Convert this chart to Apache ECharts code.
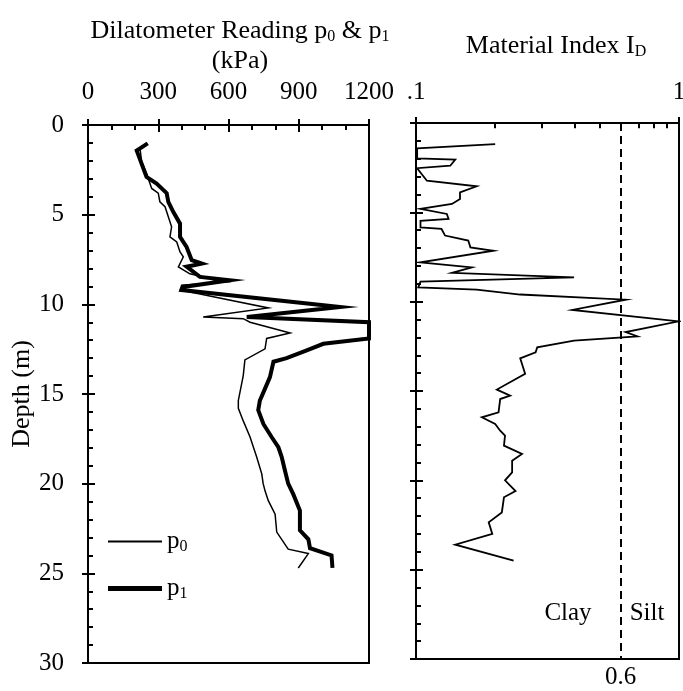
<!DOCTYPE html>
<html>
<head>
<meta charset="utf-8">
<script src="https://cdn.jsdelivr.net/npm/echarts@6/dist/echarts.min.js"></script>
<style>html,body{margin:0;padding:0;background:#fff}#c{width:683px;height:691px}</style>
</head>
<body>
<div id="c"></div>
<script>
// ---- data ----
const p0Depth = [1.3, 2.04, 2.7, 3.54, 3.8, 4.28, 4.56, 4.84, 5.68, 6.24, 6.52, 7.08, 7.35, 7.91, 8.3, 8.75, 8.94, 9.2, 10.2, 10.7, 10.8, 11.0, 11.6, 11.9, 12.48, 13.1, 13.97, 15.36, 15.8, 16.5, 17.4, 18.5, 19.45, 20.0, 20.4, 20.95, 21.7, 22.7, 23.65, 23.9, 24.7];
const p0Values = [222, 229, 250, 272, 300, 307, 329, 336, 357, 350, 379, 393, 407, 386, 435, 592, 400, 393, 770, 492, 663, 692, 863, 763, 756, 670, 663, 642, 642, 663, 692, 720, 742, 748, 756, 770, 799, 806, 855, 941, 898];

const p1Depth = [1.02, 1.43, 2.9, 3.26, 3.8, 4.28, 4.84, 5.5, 6.24, 6.8, 7.54, 7.73, 7.9, 8.47, 8.66, 9.03, 9.2, 10.15, 10.7, 11.0, 11.9, 12.2, 12.57, 13.0, 13.2, 14.06, 14.7, 15.36, 15.9, 16.67, 17.4, 17.97, 18.5, 19.27, 20.0, 20.6, 21.5, 22.6, 23.1, 23.6, 24.0, 24.7];
const p1Values = [255, 208, 250, 293, 336, 343, 364, 393, 393, 421, 443, 486, 421, 478, 606, 407, 400, 1076, 678, 1200, 1200, 1005, 934, 848, 792, 777, 756, 734, 727, 749, 784, 813, 827, 841, 855, 877, 905, 905, 941, 948, 1040, 1044];

const idDepth = [1.18, 1.42, 1.98, 2.05, 2.39, 2.53, 3.23, 3.54, 3.88, 4.25, 4.53, 4.81, 5.09, 5.37, 5.47, 5.84, 5.93, 6.3, 6.58, 6.96, 7.15, 7.8, 8.08, 8.39, 8.64, 8.88, 9.2, 9.33, 9.6, 9.89, 10.46, 11.1, 11.7, 11.94, 12.18, 12.56, 12.83, 13.17, 14.04, 14.92, 15.26, 15.45, 16.19, 16.47, 16.84, 17.22, 17.5, 18.06, 18.52, 18.9, 19.55, 20.0, 20.6, 20.95, 21.8, 22.35, 23.0, 23.6, 24.5];
const idValues = [0.2, 0.101, 0.101, 0.141, 0.135, 0.101, 0.11, 0.17, 0.147, 0.147, 0.137, 0.104, 0.131, 0.133, 0.104, 0.104, 0.125, 0.129, 0.158, 0.161, 0.197, 0.104, 0.163, 0.137, 0.399, 0.104, 0.102, 0.17, 0.249, 0.627, 0.393, 1.0, 0.627, 0.695, 0.399, 0.289, 0.285, 0.249, 0.26, 0.203, 0.228, 0.209, 0.206, 0.178, 0.2, 0.209, 0.218, 0.216, 0.253, 0.232, 0.232, 0.218, 0.239, 0.216, 0.212, 0.189, 0.195, 0.141, 0.235];

const pressureTicks = [0, 300, 600, 900, 1200];
const depthTicks = [0, 5, 10, 15, 20, 25, 30];
const idMinorTicks = [0.2, 0.3, 0.4, 0.5, 0.6, 0.7, 0.8, 0.9];
const clayLimit = 0.6;
const seriesNames = ['p0', 'p1'];

// ---- chart ----
const FONT = 'Liberation Serif';
const FS = 25;   // tick labels / annotations
const FT = 26;   // titles
const BLACK = '#000';
const subRich = { sub: { fontSize: 16, padding: [11, 0, 0, 0], fontFamily: FONT, color: BLACK } };
const zip = (xs, ys) => xs.map((x, i) => [x, ys[i]]);

const chart = echarts.init(document.getElementById('c'), null, { renderer: 'canvas' });

function mainX(grid, extra) {
  return Object.assign({
    gridIndex: grid, position: 'top',
    axisLine: { show: true, lineStyle: { color: BLACK, width: 2 } },
    axisTick: { show: true, inside: true, length: 7, lineStyle: { color: BLACK, width: 2 } },
    axisLabel: { color: BLACK, fontFamily: FONT, fontSize: FS, margin: 20 },
    splitLine: { show: false }
  }, extra);
}
function outerX(grid, extra) {
  return Object.assign({
    gridIndex: grid, position: 'top',
    axisLine: { show: false },
    axisTick: { show: true, inside: false, length: 6, lineStyle: { color: BLACK, width: 2 } },
    axisLabel: { show: false }, splitLine: { show: false }
  }, extra);
}
function mainY(grid, extra) {
  return Object.assign({
    gridIndex: grid, type: 'value', position: 'left', inverse: true,
    min: depthTicks[0], max: depthTicks[depthTicks.length - 1], interval: 5,
    axisLine: { show: true, lineStyle: { color: BLACK, width: 2 } },
    axisTick: { show: true, inside: true, length: 7, lineStyle: { color: BLACK, width: 2 } },
    minorTick: { show: true, splitNumber: 5, length: 5, lineStyle: { color: BLACK, width: 2 } },
    splitLine: { show: false }, minorSplitLine: { show: false }
  }, extra);
}
function outerY(grid) {
  return {
    gridIndex: grid, type: 'value', position: 'left', inverse: true, min: 0, max: 30, interval: 5,
    axisLine: { show: false },
    axisTick: { show: true, inside: false, length: 6, lineStyle: { color: BLACK, width: 2 } },
    axisLabel: { show: false }, splitLine: { show: false }
  };
}

const option = {
  backgroundColor: '#fff',
  animation: false,
  title: [
    { text: 'Dilatometer Reading p{sub|0} & p{sub|1}', left: 235, top: 13, textAlign: 'center',
      textStyle: { fontFamily: FONT, fontSize: FT, fontWeight: 'normal', color: BLACK, rich: subRich } },
    { text: '(kPa)', left: 235, top: 43, textAlign: 'center',
      textStyle: { fontFamily: FONT, fontSize: FT, fontWeight: 'normal', color: BLACK } },
    { text: 'Material Index I{sub|D}', left: 551, top: 28, textAlign: 'center',
      textStyle: { fontFamily: FONT, fontSize: FT, fontWeight: 'normal', color: BLACK, rich: subRich } }
  ],
  grid: [
    { left: 88, top: 125, width: 281, height: 538, show: true, borderColor: BLACK, borderWidth: 2,
      backgroundColor: 'transparent', containLabel: false, outerBoundsMode: 'none' },
    { left: 416, top: 123, width: 263, height: 536, show: true, borderColor: BLACK, borderWidth: 2,
      backgroundColor: 'transparent', containLabel: false, outerBoundsMode: 'none' }
  ],
  xAxis: [
    mainX(0, { type: 'value', min: pressureTicks[0], max: pressureTicks[pressureTicks.length - 1], interval: 300,
      axisLabel: { color: BLACK, fontFamily: FONT, fontSize: FS, margin: 20, formatter: v => String(v) },
      minorTick: { show: true, splitNumber: 3, length: 5, lineStyle: { color: BLACK, width: 2 } }, minorSplitLine: { show: false } }),
    outerX(0, { type: 'value', min: 0, max: 1200, interval: 300 }),
    mainX(1, { type: 'log', logBase: 10, min: 0.1, max: 1,
      axisLabel: { color: BLACK, fontFamily: FONT, fontSize: FS, margin: 18,
        formatter: v => (Math.abs(v - 0.1) < 1e-9 ? '.1' : String(Math.round(v))) } }),
    outerX(1, { type: 'log', logBase: 10, min: 0.1, max: 1 })
  ],
  yAxis: [
    mainY(0, { axisLabel: { color: BLACK, fontFamily: FONT, fontSize: FS, margin: 24 },
      name: 'Depth (m)', nameLocation: 'middle', nameGap: 52,
      nameTextStyle: { fontFamily: FONT, fontSize: FT, color: BLACK } }),
    outerY(0),
    mainY(1, { axisLabel: { show: false } }),
    outerY(1)
  ],
  legend: [
    { data: [seriesNames[0]], left: 103, top: 524, itemWidth: 54, itemHeight: 2, icon: 'rect', itemGap: 0,
      formatter: n => n[0] + '{sub|' + n.slice(1) + '}',
      textStyle: { fontFamily: FONT, fontSize: FS, color: BLACK, rich: subRich } },
    { data: [seriesNames[1]], left: 103, top: 571, itemWidth: 54, itemHeight: 5, icon: 'rect', itemGap: 0,
      formatter: n => n[0] + '{sub|' + n.slice(1) + '}',
      textStyle: { fontFamily: FONT, fontSize: FS, color: BLACK, rich: subRich } }
  ],
  graphic: [
    { type: 'text', x: 568, y: 613, style: { text: 'Clay', font: FS + 'px "' + FONT + '"', fill: BLACK, align: 'center', verticalAlign: 'middle' } },
    { type: 'text', x: 647, y: 613, style: { text: 'Silt', font: FS + 'px "' + FONT + '"', fill: BLACK, align: 'center', verticalAlign: 'middle' } }
  ],
  series: [
    { name: seriesNames[0], type: 'line', xAxisIndex: 0, yAxisIndex: 0, data: zip(p0Values, p0Depth),
      showSymbol: false, symbol: 'none', color: BLACK, lineStyle: { color: BLACK, width: 1.5, join: 'miter' } },
    { name: seriesNames[1], type: 'line', xAxisIndex: 0, yAxisIndex: 0, data: zip(p1Values, p1Depth),
      showSymbol: false, symbol: 'none', color: BLACK, lineStyle: { color: BLACK, width: 4, join: 'miter' } },
    { name: 'ID', type: 'line', xAxisIndex: 2, yAxisIndex: 2, data: zip(idValues, idDepth),
      showSymbol: false, symbol: 'none', color: BLACK, lineStyle: { color: BLACK, width: 1.8, join: 'miter' },
      markLine: {
        silent: true, symbol: 'none', animation: false,
        data: [
          { xAxis: clayLimit, lineStyle: { type: [8, 5], color: BLACK, width: 2 },
            label: { show: true, position: 'end', formatter: '0.6', fontFamily: FONT, fontSize: FS, color: BLACK, distance: 6 } }
        ].concat(idMinorTicks.map(t => [
          { coord: [t, 0], lineStyle: { type: 'solid', color: BLACK, width: 2 }, label: { show: false } },
          { coord: [t, 0.3] }
        ]))
      } }
  ]
};
chart.setOption(option);
</script>
</body>
</html>
